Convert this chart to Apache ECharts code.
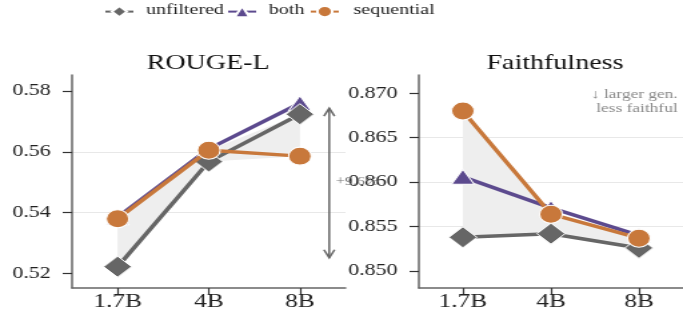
<!DOCTYPE html>
<html>
<head>
<meta charset="utf-8">
<script src="https://cdn.jsdelivr.net/npm/echarts@6/dist/echarts.min.js"></script>
<style>
html,body{margin:0;padding:0;background:#fff;overflow:hidden;font-family:'Liberation Serif',serif;}
#wrap{width:683px;height:331px;overflow:hidden;}
#chart{width:512px;height:331px;transform:scaleX(1.333984);transform-origin:0 0;}
</style>
</head>
<body>
<div id="wrap"><div id="chart"></div></div>
<script>
// ---- data ----
const categories = ['1.7B', '4B', '8B'];
const seriesNames = ['unfiltered', 'both', 'sequential'];
const rougeUnfiltered = [0.5222, 0.5568, 0.5724];
const rougeBoth = [0.5385, 0.5610, 0.5760];
const rougeSequential = [0.5380, 0.5605, 0.5586];
const faithUnfiltered = [0.8538, 0.8542, 0.8526];
const faithBoth = [0.8606, 0.8571, 0.8540];
const faithSequential = [0.8680, 0.8564, 0.8537];
const rougeTicks = [0.52, 0.54, 0.56, 0.58];
const faithTicks = [0.850, 0.855, 0.860, 0.865, 0.870];
const rougeRange = [0.5152, 0.5853];
const faithRange = [0.84809, 0.87206];
const titles = ['ROUGE-L', 'Faithfulness'];
const noteText = '\u2193 larger gen.\nless faithful';

// ---- style ----
const FONT = 'Liberation Serif';
const colors = { unfiltered: '#666666', both: '#5c4a8e', sequential: '#c8783b' };
const symbols = { unfiltered: 'diamond', both: 'triangle', sequential: 'circle' };
const symSizes = { unfiltered: [21, 21], both: [17, 15], sequential: [17, 18] };
const zOrder = { unfiltered: 3, both: 2, sequential: 4 };
const legendIconLeft = [78, 170, 232];   // layout of the legend row
const legendTextLeft = [109.5, 201.5, 265];

const chart = echarts.init(document.getElementById('chart'), null, { renderer: 'canvas' });

function lineSeries(name, data, idx) {
  return {
    name: name, type: 'line', data: data,
    xAxisIndex: idx, yAxisIndex: idx,
    symbol: symbols[name], symbolSize: symSizes[name],
    z: zOrder[name],
    lineStyle: { color: colors[name], width: 3.5 },
    itemStyle: { color: colors[name], borderColor: '#ffffff', borderWidth: 1 },
    emphasis: { disabled: true }, animation: false
  };
}
function bandSeries(a, b, idx, stackName) {
  const lo = a.map((v, i) => Math.min(v, b[i]));
  const diff = a.map((v, i) => Math.abs(v - b[i]));
  return [
    { type: 'line', data: lo, stack: stackName, xAxisIndex: idx, yAxisIndex: idx,
      symbol: 'none', lineStyle: { opacity: 0 }, silent: true, z: 1, animation: false },
    { type: 'line', data: diff, stack: stackName, xAxisIndex: idx, yAxisIndex: idx,
      symbol: 'none', lineStyle: { opacity: 0 }, areaStyle: { color: '#eeeeee', opacity: 1 },
      silent: true, z: 1, animation: false }
  ];
}
function yAxisOf(idx, range, ticks, decimals) {
  return {
    type: 'value', gridIndex: idx, min: range[0], max: range[1],
    axisLine: { show: true, lineStyle: { color: '#666', width: 1.5 } },
    axisTick: { show: true, length: 7, customValues: ticks, lineStyle: { color: '#333', width: 1.2 } },
    axisLabel: { customValues: ticks, margin: 16, fontFamily: FONT, fontSize: 16.5, color: '#222',
      formatter: v => v.toFixed(decimals) },
    splitLine: { show: true, showMinLine: false, showMaxLine: false, lineStyle: { color: '#e8e8e8', width: 1 } }
  };
}
function xAxisOf(idx) {
  return {
    type: 'category', gridIndex: idx, data: categories, boundaryGap: true,
    axisLine: { show: true, lineStyle: { color: '#666', width: 1.5 } },
    axisTick: { show: true, alignWithLabel: true, length: 7, lineStyle: { color: '#333', width: 1.2 } },
    axisLabel: { fontFamily: FONT, fontSize: 19, color: '#222', margin: 5 },
    splitLine: { show: false }
  };
}

const titleList = [
  { text: titles[0], left: 156, top: 53, textAlign: 'center', padding: 0,
    textStyle: { fontFamily: FONT, fontSize: 21, fontWeight: 'normal', color: '#111' } },
  { text: titles[1], left: 416, top: 53, textAlign: 'center', padding: 0,
    textStyle: { fontFamily: FONT, fontSize: 21, fontWeight: 'normal', color: '#111' } },
  { text: noteText, left: 508, top: 88, textAlign: 'right', padding: 0,
    textStyle: { fontFamily: FONT, fontSize: 13, fontWeight: 'normal', color: '#888', lineHeight: 14, align: 'right' } }
].concat(seriesNames.map((n, i) => ({
  text: n, left: legendTextLeft[i], top: 3, padding: 0,
  textStyle: { fontFamily: FONT, fontSize: 15, fontWeight: 'normal', color: '#222' }
})));

const option = {
  animation: false,
  backgroundColor: '#ffffff',
  textStyle: { fontFamily: FONT },
  title: titleList,
  legend: seriesNames.map((n, i) => ({
    data: [n], left: legendIconLeft[i], top: 5, padding: 0, itemWidth: 21, itemHeight: 14, itemGap: 0,
    textStyle: { color: 'rgba(0,0,0,0)', fontSize: 1 }
  })),
  grid: [
    { left: 54, top: 75, width: 205, height: 213 },
    { left: 314, top: 75, width: 205, height: 213 }
  ],
  xAxis: [xAxisOf(0), xAxisOf(1)],
  yAxis: [yAxisOf(0, rougeRange, rougeTicks, 2), yAxisOf(1, faithRange, faithTicks, 3)],
  series: [
    ...bandSeries(rougeUnfiltered, rougeSequential, 0, 'bandR'),
    ...bandSeries(faithUnfiltered, faithSequential, 1, 'bandF'),
    lineSeries('unfiltered', rougeUnfiltered, 0),
    lineSeries('both', rougeBoth, 0),
    lineSeries('sequential', rougeSequential, 0),
    lineSeries('unfiltered', faithUnfiltered, 1),
    lineSeries('both', faithBoth, 1),
    lineSeries('sequential', faithSequential, 1)
  ]
};
chart.setOption(option);

// annotation arrow from data positions
const pTop = chart.convertToPixel({ gridIndex: 0 }, [categories[2], rougeUnfiltered[2]]);
const pBot = chart.convertToPixel({ gridIndex: 0 }, [categories[0], rougeUnfiltered[0]]);
const ax = pTop[0] + 22;
const yT = pTop[1] - 6, yB = pBot[1] - 9;
const pct = (rougeUnfiltered[2] - rougeUnfiltered[0]) / rougeUnfiltered[0] * 100;
chart.setOption({
  title: titleList.concat([
    { text: '+' + pct.toFixed(1) + '%', left: ax + 5, top: (yT + yB) / 2 - 7, z: 0, padding: 0,
      textStyle: { fontFamily: FONT, fontSize: 12, fontWeight: 'normal', color: '#777' } }
  ]),
  graphic: [
    { type: 'line', z: 0, shape: { x1: ax, y1: yT, x2: ax, y2: yB }, style: { stroke: '#666', lineWidth: 1.5 } },
    { type: 'polyline', z: 0, shape: { points: [[ax - 4, yT + 8], [ax, yT], [ax + 4, yT + 8]] }, style: { stroke: '#666', lineWidth: 1.5, fill: null } },
    { type: 'polyline', z: 0, shape: { points: [[ax - 4, yB - 8], [ax, yB], [ax + 4, yB - 8]] }, style: { stroke: '#666', lineWidth: 1.5, fill: null } }
  ]
});
</script>
</body>
</html>
